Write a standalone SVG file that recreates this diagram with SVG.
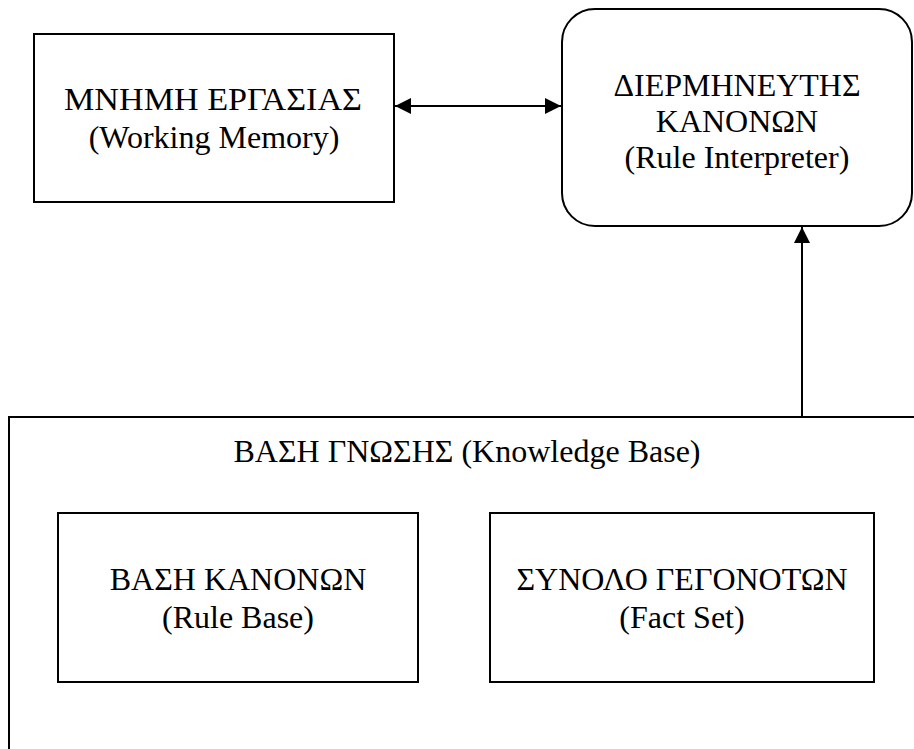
<svg xmlns="http://www.w3.org/2000/svg" width="914" height="749" viewBox="0 0 914 749">
<style>
.box{fill:#fff;stroke:#000;stroke-width:2}
.t{font-size:32px;fill:#000;text-anchor:middle}
.c{stroke:#000;stroke-width:2;fill:none}
</style>
<defs>
<marker id="ah" viewBox="0 0 16 16" refX="16" refY="8" markerWidth="16" markerHeight="16" markerUnits="userSpaceOnUse" orient="auto-start-reverse">
<path d="M0,0 L16,8 L0,16 Z" fill="#000"/>
</marker>
</defs>
<g font-family="Liberation Serif, DejaVu Serif, serif">
<g id="kb">
<rect class="box" x="9" y="417" width="920" height="360"/>
<text class="t" x="467" y="462">ΒΑΣΗ ΓΝΩΣΗΣ (Knowledge Base)</text>
</g>
<g id="wm">
<rect class="box" x="34" y="34" width="360" height="168"/>
<text class="t" x="213" y="110" textLength="298" lengthAdjust="spacingAndGlyphs">ΜΝΗΜΗ ΕΡΓΑΣΙΑΣ</text>
<text class="t" x="214" y="148">(Working Memory)</text>
</g>
<g id="ri">
<rect class="box" x="562" y="9" width="350" height="217" rx="33" ry="33"/>
<text class="t" x="737" y="96">ΔΙΕΡΜΗΝΕΥΤΗΣ</text>
<text class="t" x="737" y="132">ΚΑΝΟΝΩΝ</text>
<text class="t" x="737" y="168">(Rule Interpreter)</text>
</g>
<g id="rb">
<rect class="box" x="58" y="513" width="360" height="169"/>
<text class="t" x="238" y="590">ΒΑΣΗ ΚΑΝΟΝΩΝ</text>
<text class="t" x="238" y="628">(Rule Base)</text>
</g>
<g id="fs">
<rect class="box" x="490" y="513" width="384" height="169"/>
<text class="t" x="682" y="590">ΣΥΝΟΛΟ ΓΕΓΟΝΟΤΩΝ</text>
<text class="t" x="682" y="628">(Fact Set)</text>
</g>
</g>
<g id="connectors">
<line class="c" x1="395" y1="106" x2="561" y2="106" marker-start="url(#ah)" marker-end="url(#ah)"/>
<line class="c" x1="802" y1="417" x2="802" y2="227" marker-end="url(#ah)"/>
</g>
</svg>
